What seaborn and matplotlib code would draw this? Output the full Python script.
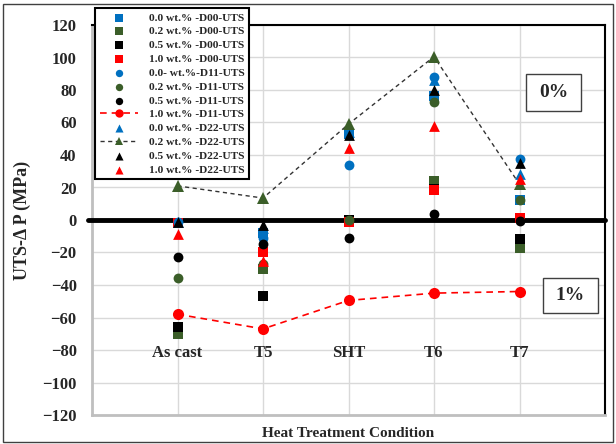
import numpy as np
import pandas as pd
import matplotlib
matplotlib.use("Agg")
import matplotlib.pyplot as plt
import seaborn as sns
from matplotlib.patches import Rectangle

categories = ["As cast", "T5", "SHT", "T6", "T7"]

labels = ["0.0 wt.% -D00-UTS", "0.2 wt.% -D00-UTS", "0.5 wt.% -D00-UTS", "1.0 wt.% -D00-UTS",
          "0.0- wt.%-D11-UTS", "0.2 wt.% -D11-UTS", "0.5 wt.% -D11-UTS", "1.0 wt.% -D11-UTS",
          "0.0 wt.% -D22-UTS", "0.2 wt.% -D22-UTS", "0.5 wt.% -D22-UTS", "1.0 wt.% -D22-UTS"]

d00_00 = [-2, -8, 53, 76, 12]
d00_02 = [-70, -30, 0, 24, -17]
d00_05 = [-66, -47, 0, 19, -12]
d00_10 = [-2, -20, -1, 18.5, 1.5]
d11_00 = [-1, -11, 34, 88, 37.5]
d11_02 = [-35.5, -27, 0, 72.5, 12.5]
d11_05 = [-23, -14.5, -11, 3.5, -0.5]
d11_10 = [-58, -67, -49.5, -45, -44]
d22_00 = [-1, -5, 54, 86, 28]
d22_02 = [21, 13.5, 59, 100.5, 22]
d22_05 = [-1, -3, 52, 80, 35]
d22_10 = [-8.5, -25, 44.5, 58, 25]

series = [d00_00, d00_02, d00_05, d00_10, d11_00, d11_02, d11_05, d11_10,
          d22_00, d22_02, d22_05, d22_10]

BLUE = "#0070C0"
GREEN = "#3B5E29"
BLACK = "#000000"
RED = "#FF0000"
colors = [BLUE, GREEN, BLACK, RED] * 3
markers = ["s"] * 4 + ["o"] * 4 + ["^"] * 4

sns.set_style("white")
plt.rcParams["font.family"] = ["Liberation Serif", "DejaVu Serif"]
plt.rcParams["font.weight"] = "bold"

fig = plt.figure(figsize=(6.16, 4.44), dpi=100)
ax = fig.add_axes([92 / 616, 29 / 444, 513 / 616, 390 / 444])

x_pos = np.arange(1, len(categories) + 1)

for i, (vals, lab) in enumerate(zip(series, labels)):
    df = pd.DataFrame({"x": x_pos, "y": vals})
    if i == 7:
        sns.lineplot(data=df, x="x", y="y", ax=ax, color=RED, linestyle=(0, (4, 3)),
                     linewidth=1.2, marker="o", markersize=8, markeredgewidth=0,
                     label=lab, zorder=5)
    elif i == 9:
        sns.lineplot(data=df, x="x", y="y", ax=ax, color="#333333", linestyle=(0, (3, 2.5)),
                     linewidth=1.0, marker="^", markersize=8, markerfacecolor=GREEN,
                     markeredgewidth=0, label=lab, zorder=5)
    else:
        sns.scatterplot(data=df, x="x", y="y", ax=ax, color=colors[i], marker=markers[i],
                        s=50 if markers[i] != "^" else 60, linewidth=0, label=lab, zorder=5)

ax.set_xlim(0, 6)
ax.set_ylim(-120, 120)
ax.set_yticks(np.arange(-120, 121, 20))
ax.set_xticks(x_pos)
ax.set_xticklabels([])
ax.grid(True, color="#D9D9D9", linewidth=1)
ax.set_axisbelow(True)
ax.tick_params(axis="both", length=0)
ax.tick_params(axis="y", pad=11, labelsize=12)
for t in ax.get_yticklabels():
    t.set_fontweight("bold")

for xp, cat in zip(x_pos, categories):
    ax.text(xp, -82, cat, ha="center", va="center", fontsize=12, fontweight="bold")

ax.axhline(0, xmin=-0.008, xmax=1, color="black", linewidth=3.5, zorder=3, clip_on=False)

ax.spines["left"].set_color("#BFBFBF")
ax.spines["left"].set_linewidth(2)
ax.spines["bottom"].set_color("#BFBFBF")
ax.spines["bottom"].set_linewidth(2)
ax.spines["top"].set_color("black")
ax.spines["top"].set_linewidth(1.5)
ax.spines["right"].set_color("black")
ax.spines["right"].set_linewidth(1.5)

ax.set_xlabel("Heat Treatment Condition", fontsize=11, fontweight="bold", labelpad=5)
ax.set_ylabel("UTS-\u0394 P (MPa)", fontsize=13, fontweight="bold", labelpad=8)

leg = ax.legend(loc="upper left", bbox_to_anchor=(95 / 616, 1 - 8 / 444),
                bbox_transform=fig.transFigure,
                prop={"family": "Liberation Serif", "weight": "bold", "size": 8.2},
                frameon=True, fancybox=False, edgecolor="black", framealpha=1,
                labelspacing=0.34, handlelength=3.4, handletextpad=0.9, borderpad=0.4,
                borderaxespad=0, markerscale=0.75)
leg.get_frame().set_linewidth(1.5)
leg.set_zorder(10)

# annotation boxes
for (x0, y0, x1, y1, txt) in [(526, 74, 581, 111, "0%"), (543, 278, 598, 313, "1%")]:
    fig.patches.append(Rectangle((x0 / 616, 1 - y1 / 444), (x1 - x0) / 616, (y1 - y0) / 444,
                                 transform=fig.transFigure, facecolor="white",
                                 edgecolor="#404040", linewidth=1, zorder=8))
    fig.text((x0 + x1) / 2 / 616, 1 - (y0 + y1) / 2 / 444, txt, ha="center", va="center",
             fontsize=14, fontweight="bold", zorder=9)

fig.patches.append(Rectangle((3 / 616, 2 / 444), 610 / 616, 438 / 444, transform=fig.transFigure,
                             facecolor="none", edgecolor="#404040", linewidth=1, zorder=0))

fig.savefig("out.png", dpi=100)
